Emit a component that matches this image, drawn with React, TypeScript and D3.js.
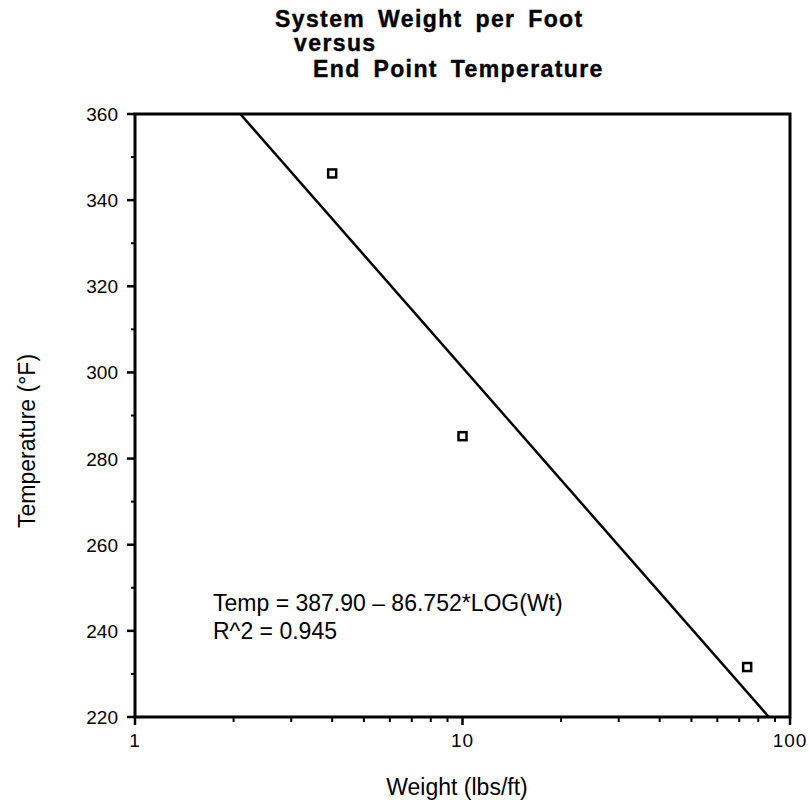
import React from "react";
import * as d3 from "d3";

const titleLines = ["System Weight per Foot", "versus", "End Point Temperature"];
const weights = [4, 10, 74];
const temps = [346.2, 285.2, 231.6];
const intercept = 387.9;
const slope = -86.752;
const yTicks = [220, 240, 260, 280, 300, 320, 340, 360];
const yMinor = [230, 250, 270, 290, 310, 330, 350];
const xMajor = [1, 10, 100];
const xMinor = [2, 3, 4, 5, 6, 7, 8, 9, 20, 30, 40, 50, 60, 70, 80, 90];
const eqLines = ["Temp = 387.90 \u2013 86.752*LOG(Wt)", "R^2 = 0.945"];

export default function App() {
  const W = 809, H = 803;
  const L = 135, R = 790, T = 114, B = 717;
  const x = d3.scaleLog().domain([1, 100]).range([L, R]);
  const y = d3.scaleLinear().domain([220, 360]).range([B, T]);
  const font = "Liberation Sans, Arial, Helvetica, sans-serif";
  const fitW = (t: number) => Math.pow(10, (t - intercept) / slope);
  const fitPts: [number, number][] = [[fitW(360), 360], [fitW(220), 220]];
  const line = d3.line<[number, number]>().x(d => x(d[0])).y(d => y(d[1]));
  return (
    <svg width={W} height={H} style={{ position: "absolute", left: 0, top: 0 }} fontFamily={font}>
      <rect width={W} height={H} fill="#fff" />
      <g fontWeight="bold" fontSize={23} letterSpacing={1.4} wordSpacing={5} stroke="#000" strokeWidth={0.4}>
        <text x={275} y={27}>{titleLines[0]}</text>
        <text x={294} y={51}>{titleLines[1]}</text>
        <text x={313} y={77}>{titleLines[2]}</text>
      </g>
      <rect x={L} y={T} width={R - L} height={B - T} fill="none" stroke="#000" strokeWidth={3} />
      {yTicks.map(t => (
        <g key={"y" + t}>
          <line x1={L - 8} x2={L} y1={y(t)} y2={y(t)} stroke="#000" strokeWidth={2.5} />
          <text x={L - 17} y={y(t) + 7} textAnchor="end" fontSize={19}>{t}</text>
        </g>
      ))}
      {yMinor.map(t => (
        <line key={"ym" + t} x1={L - 4} x2={L} y1={y(t)} y2={y(t)} stroke="#000" strokeWidth={2} />
      ))}
      {xMajor.map(t => (
        <g key={"x" + t}>
          <line x1={x(t)} x2={x(t)} y1={B} y2={B + 8} stroke="#000" strokeWidth={2.5} />
          <text x={x(t)} y={B + 30} textAnchor="middle" fontSize={19} letterSpacing={1}>{t}</text>
        </g>
      ))}
      {xMinor.map(t => (
        <line key={"xm" + t} x1={x(t)} x2={x(t)} y1={B} y2={B + 5} stroke="#000" strokeWidth={2} />
      ))}
      <path d={line(fitPts) || ""} fill="none" stroke="#000" strokeWidth={2.5} />
      {weights.map((w, i) => (
        <rect key={"p" + i} x={x(w) - 4} y={y(temps[i]) - 4} width={8} height={8} fill="#fff" stroke="#000" strokeWidth={2.5} />
      ))}
      <g fontSize={23}>
        <text x={213} y={611}>{eqLines[0]}</text>
        <text x={213} y={639}>{eqLines[1]}</text>
      </g>
      <text x={457} y={795} textAnchor="middle" fontSize={23}>Weight (lbs/ft)</text>
      <text transform={`translate(35,441) rotate(-90)`} textAnchor="middle" fontSize={23}>Temperature (°F)</text>
    </svg>
  );
}
